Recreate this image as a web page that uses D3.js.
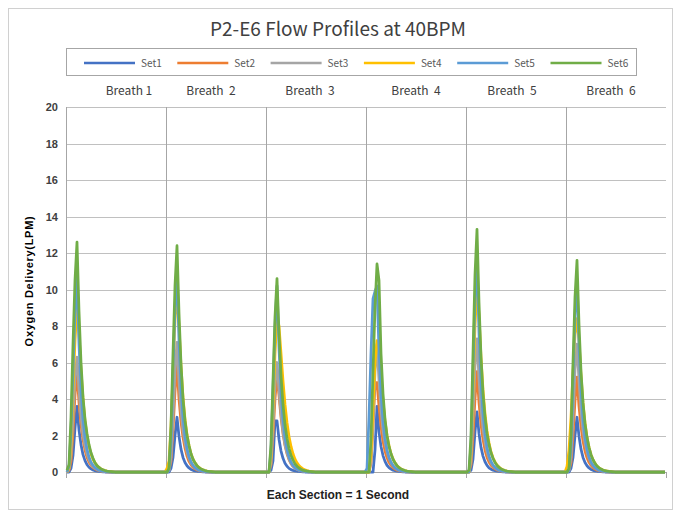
<!DOCTYPE html>
<html><head><meta charset="utf-8">
<script src="https://cdn.jsdelivr.net/npm/d3@7"></script>
<style>body{margin:0;background:#fff;} svg{display:block;}</style>
</head><body>
<svg id="c" width="677" height="513"></svg>
<script>
// ---- data ----
const seriesNames = ["Set1","Set2","Set3","Set4","Set5","Set6"];
const breathLabels = ["Breath 1","Breath  2","Breath  3","Breath  4","Breath  5","Breath  6"];
const yTicks = [0,2,4,6,8,10,12,14,16,18,20];
const samplesPerSection = 50;
// values per breath (first samples of each 1-second section; the rest of each section reads 0)
const set1 = [
 [0,0,0.2,0.9,2.4,3.6,2.3,1.5,0.95,0.62,0.4,0.26,0.17,0.11,0.07,0.05,0.03,0.02,0.01],
 [0,0,0.2,0.8,2.0,3.0,1.95,1.25,0.8,0.52,0.34,0.22,0.14,0.09,0.06,0.04,0.03,0.02,0.01],
 [0,0,0.1,0.6,2.8,2.8,1.8,1.15,0.75,0.48,0.31,0.2,0.13,0.09,0.06,0.04,0.03,0.02,0.01],
 [0,0,0,0,1.2,3.6,2.2,1.4,0.9,0.58,0.37,0.24,0.16,0.1,0.07,0.05,0.03,0.02,0.01],
 [0,0,0.1,0.7,2.2,3.3,2.1,1.35,0.87,0.56,0.36,0.23,0.15,0.1,0.07,0.05,0.03,0.02,0.01],
 [0,0,0.2,0.8,2.0,3.0,1.95,1.25,0.8,0.52,0.34,0.22,0.14,0.09,0.06,0.04,0.03,0.02,0.01]
];
const set2 = [
 [0,0.1,0.6,2.2,4.2,5.5,3.8,2.6,1.8,1.2,0.8,0.55,0.37,0.25,0.17,0.11,0.07,0.05,0.03,0.02,0.01],
 [0,0.1,0.6,2.3,4.4,5.8,4.0,2.75,1.9,1.3,0.87,0.58,0.39,0.26,0.17,0.11,0.07,0.05,0.03,0.02,0.01],
 [0,0,0.4,2.0,4.0,5.3,4.2,3.0,2.1,1.45,1.0,0.68,0.46,0.31,0.21,0.14,0.09,0.06,0.04,0.03,0.02,0.01],
 [0,0,0.5,2.5,4.8,4.9,3.6,2.5,1.7,1.15,0.78,0.53,0.36,0.24,0.16,0.1,0.07,0.05,0.03,0.02,0.01],
 [0,0,0.4,2.0,4.0,5.5,3.8,2.6,1.8,1.2,0.8,0.55,0.37,0.25,0.17,0.11,0.07,0.05,0.03,0.02,0.01],
 [0,0.1,0.5,2.0,3.9,5.2,3.6,2.5,1.7,1.15,0.78,0.53,0.36,0.24,0.16,0.1,0.07,0.05,0.03,0.02,0.01]
];
const set3 = [
 [0,0.2,1.0,3.0,5.2,6.3,4.5,3.1,2.1,1.45,1.0,0.68,0.46,0.31,0.21,0.14,0.09,0.06,0.04,0.03,0.02,0.01],
 [0,0.1,0.8,3.0,5.6,7.1,5.0,3.4,2.3,1.6,1.1,0.75,0.5,0.34,0.23,0.15,0.1,0.07,0.05,0.03,0.02,0.01],
 [0,0,0.5,2.5,4.8,6.0,4.5,3.2,2.2,1.5,1.05,0.72,0.49,0.33,0.22,0.15,0.1,0.07,0.05,0.03,0.02,0.01],
 [0,0,0.6,2.8,5.5,7.0,5.0,3.4,2.3,1.6,1.1,0.75,0.5,0.34,0.23,0.15,0.1,0.07,0.05,0.03,0.02,0.01],
 [0,0,0.6,3.0,5.8,7.3,5.1,3.5,2.4,1.65,1.1,0.76,0.51,0.34,0.23,0.15,0.1,0.07,0.05,0.03,0.02,0.01],
 [0,0.1,0.8,3.0,5.6,7.0,5.0,3.4,2.3,1.6,1.1,0.75,0.5,0.34,0.23,0.15,0.1,0.07,0.05,0.03,0.02,0.01]
];
const set4 = [
 [0,0.2,1.5,4.5,7.2,9.0,7.6,5.6,4.0,2.8,2.0,1.4,1.0,0.7,0.5,0.35,0.25,0.17,0.12,0.08,0.05,0.03,0.02,0.01],
 [0.2,0.6,2.5,5.5,8.3,9.9,8.0,5.8,4.1,2.9,2.05,1.45,1.0,0.7,0.5,0.35,0.25,0.17,0.12,0.08,0.05,0.03,0.02,0.01],
 [0,0,0.8,3.5,6.5,8.5,8.0,6.5,5.0,3.7,2.7,1.95,1.4,1.0,0.7,0.5,0.35,0.25,0.17,0.12,0.08,0.05,0.03,0.02],
 [0,0,1.0,3.5,6.0,7.2,6.6,5.2,3.9,2.8,2.0,1.45,1.0,0.72,0.5,0.35,0.25,0.17,0.12,0.08,0.05,0.03,0.02,0.01],
 [0,0,1.0,4.5,8.0,10.1,8.6,6.3,4.5,3.2,2.25,1.6,1.1,0.78,0.55,0.38,0.27,0.18,0.12,0.08,0.05,0.03,0.02,0.01],
 [0.3,1.2,3.0,5.5,7.5,8.4,7.2,5.3,3.8,2.7,1.9,1.35,0.95,0.67,0.47,0.33,0.23,0.16,0.11,0.07,0.05,0.03,0.02,0.01]
];
const set5 = [
 [0,0.3,2.2,5.5,8.8,10.7,7.0,4.5,2.9,1.9,1.25,0.82,0.54,0.36,0.24,0.16,0.1,0.07,0.05,0.03,0.02,0.01],
 [0,0.1,1.8,5.5,9.0,11.0,7.2,4.6,3.0,1.95,1.28,0.84,0.55,0.36,0.24,0.16,0.1,0.07,0.05,0.03,0.02,0.01],
 [0,0,1.2,4.5,8.0,10.2,6.8,4.4,2.9,1.9,1.25,0.82,0.54,0.36,0.24,0.16,0.1,0.07,0.05,0.03,0.02,0.01],
 [0.2,3.0,6.5,9.5,9.9,10.2,6.6,4.3,2.8,1.85,1.2,0.8,0.53,0.35,0.23,0.15,0.1,0.07,0.05,0.03,0.02,0.01],
 [0,0,1.5,5.5,9.5,11.7,7.6,4.9,3.2,2.1,1.35,0.88,0.58,0.38,0.25,0.16,0.1,0.07,0.05,0.03,0.02,0.01],
 [0,0.1,1.5,5.0,8.6,10.6,6.9,4.5,2.9,1.9,1.25,0.82,0.54,0.36,0.24,0.16,0.1,0.07,0.05,0.03,0.02,0.01]
];
const set6 = [
 [0.1,0.4,3.0,7.0,10.5,12.6,8.8,6.0,4.1,2.9,2.1,1.5,1.05,0.75,0.5,0.35,0.25,0.17,0.12,0.08,0.05,0.03,0.02,0.01],
 [0,0.2,2.5,6.5,10.2,12.4,8.7,5.9,4.0,2.8,2.0,1.45,1.0,0.7,0.5,0.35,0.24,0.17,0.12,0.08,0.05,0.03,0.02,0.01],
 [0,0,1.5,5.0,8.5,10.6,7.6,5.3,3.7,2.6,1.85,1.3,0.92,0.65,0.45,0.32,0.22,0.15,0.1,0.07,0.05,0.03,0.02,0.01],
 [0,0,1.8,5.5,9.0,11.4,10.5,6.5,4.3,2.9,2.0,1.4,1.0,0.7,0.5,0.35,0.24,0.17,0.12,0.08,0.05,0.03,0.02,0.01],
 [0,0.1,2.0,6.5,10.8,13.3,9.3,6.3,4.3,3.0,2.1,1.5,1.05,0.75,0.52,0.36,0.25,0.17,0.12,0.08,0.05,0.03,0.02,0.01],
 [0,0.2,2.0,6.0,9.6,11.6,8.1,5.5,3.8,2.65,1.9,1.35,0.95,0.67,0.47,0.33,0.23,0.16,0.11,0.07,0.05,0.03,0.02,0.01]
];
const seriesData = [set1,set2,set3,set4,set5,set6];
const colors = ["#4472C4","#ED7D31","#A5A5A5","#FFC000","#5B9BD5","#70AD47"];

// ---- layout ----
const svg = d3.select("#c");
const L = 66, R = 666, T = 107, B = 472;
const nSections = breathLabels.length;
const nTotal = nSections * samplesPerSection;
const x = d3.scaleLinear().domain([0, nTotal]).range([L, R]);
const y = d3.scaleLinear().domain([0, 20]).range([B, T]);

// frame
svg.append("rect").attr("x",8.5).attr("y",8.5).attr("width",664).attr("height",501)
  .attr("fill","#fff").attr("stroke","#d0d0d0").attr("stroke-width",1);

// title
svg.append("text").attr("x",338).attr("y",36).attr("text-anchor","middle")
  .attr("font-family","'Noto Sans CJK SC','Noto Sans',sans-serif").attr("font-size",19)
  .attr("fill","#404040").text("P2-E6 Flow Profiles at 40BPM");

// legend
const lg = svg.append("g");
lg.append("rect").attr("x",66.5).attr("y",48.5).attr("width",570).attr("height",27)
  .attr("fill","none").attr("stroke","#a6a6a6");
seriesNames.forEach((n,i)=>{
  const x0 = 84 + i*93.3;
  lg.append("line").attr("x1",x0).attr("x2",x0+51).attr("y1",63).attr("y2",63)
    .attr("stroke",colors[i]).attr("stroke-width",2.5);
  lg.append("text").attr("x",x0+57).attr("y",66.5).attr("font-size",10)
    .attr("font-family","'Noto Sans CJK SC','Noto Sans',sans-serif").attr("fill","#595959").text(n);
});

// breath labels
const breathLabelOffset = [63,45,44,50,46,45];
breathLabels.forEach((b,i)=>{
  svg.append("text").attr("x", x(i*samplesPerSection)+breathLabelOffset[i]).attr("y",95)
    .attr("text-anchor","middle").attr("font-size",12)
    .attr("font-family","'Noto Sans CJK SC','Noto Sans',sans-serif").attr("fill","#404040")
    .style("white-space","pre").text(b);
});

// horizontal gridlines
svg.append("g").selectAll("line").data(yTicks.filter(d=>d>0)).join("line")
  .attr("x1",L).attr("x2",R).attr("y1",d=>Math.round(y(d))+0.5).attr("y2",d=>Math.round(y(d))+0.5)
  .attr("stroke","#c0c0c0").attr("stroke-width",1);

// vertical section lines
const sections = d3.range(0, nSections);
svg.append("g").selectAll("line").data(sections).join("line")
  .attr("x1",d=>Math.round(x(d*samplesPerSection))+0.5).attr("x2",d=>Math.round(x(d*samplesPerSection))+0.5)
  .attr("y1",T).attr("y2",B+6).attr("stroke","#a6a6a6").attr("stroke-width",1);
svg.append("line").attr("x1",R+0.5).attr("x2",R+0.5).attr("y1",B).attr("y2",B+6).attr("stroke","#a6a6a6");

// x axis line
svg.append("line").attr("x1",L).attr("x2",R).attr("y1",B+0.5).attr("y2",B+0.5)
  .attr("stroke","#a6a6a6").attr("stroke-width",1);

// y axis labels
svg.append("g").selectAll("text").data(yTicks).join("text")
  .attr("x",58).attr("y",d=>y(d)+4).attr("text-anchor","end")
  .attr("font-family","'Liberation Sans',Arial,sans-serif").attr("font-weight","bold")
  .attr("font-size",11).attr("fill","#404040").text(d=>d);

// y axis title
svg.append("text").attr("transform","translate(33,281) rotate(-90)").attr("text-anchor","middle")
  .attr("font-family","'Liberation Sans',Arial,sans-serif").attr("font-weight","bold")
  .attr("font-size",11).attr("letter-spacing",0.7).attr("fill","#000").text("Oxygen Delivery(LPM)");

// x axis title
svg.append("text").attr("x",338).attr("y",499).attr("text-anchor","middle")
  .attr("font-family","'Liberation Sans',Arial,sans-serif").attr("font-weight","bold")
  .attr("font-size",12).attr("fill","#222").text("Each Section = 1 Second");

// series
const line = d3.line().x(d=>x(d.i+0.5)).y(d=>y(d.v));
seriesData.forEach((s,k)=>{
  const pts = [];
  s.forEach((arr,b)=>{
    for(let j=0;j<samplesPerSection;j++){
      pts.push({i:b*samplesPerSection+j, v: j<arr.length?arr[j]:0});
    }
  });
  svg.append("path").datum(pts).attr("d",line).attr("fill","none")
    .attr("stroke",colors[k]).attr("stroke-width",2.75).attr("stroke-linejoin","round");
});
</script>
</body></html>
